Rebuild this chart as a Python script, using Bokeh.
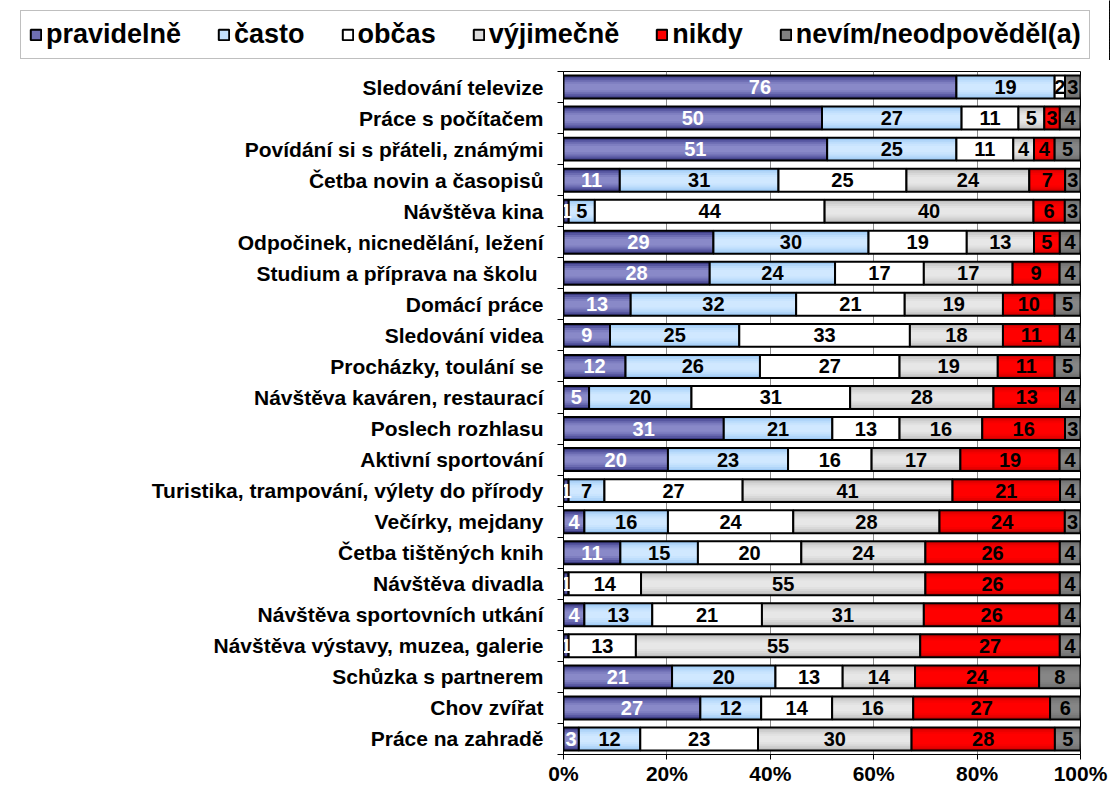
from bokeh.plotting import figure
from bokeh.layouts import column
from bokeh.models import (ColumnDataSource, Range1d, FixedTicker, Legend, LegendItem,
                          PrintfTickFormatter)
from bokeh.core.properties import value
from bokeh.embed import file_html
from bokeh.resources import INLINE

categories = [
    "Sledování televize",
    "Práce s počítačem",
    "Povídání si s přáteli, známými",
    "Četba novin a časopisů",
    "Návštěva kina",
    "Odpočinek, nicnedělání, ležení",
    "Studium a  příprava na školu",
    "Domácí práce",
    "Sledování videa",
    "Procházky, toulání se",
    "Návštěva kaváren, restaurací",
    "Poslech rozhlasu",
    "Aktivní sportování",
    "Turistika, trampování, výlety do přírody",
    "Večírky, mejdany",
    "Četba tištěných knih",
    "Návštěva divadla",
    "Návštěva sportovních utkání",
    "Návštěva výstavy, muzea, galerie",
    "Schůzka s partnerem",
    "Chov zvířat",
    "Práce na zahradě",
]
series_names = ["pravidelně", "často", "občas", "výjimečně", "nikdy", "nevím/neodpověděl(a)"]
pravidelne = [76, 50, 51, 11, 1, 29, 28, 13, 9, 12, 5, 31, 20, 1, 4, 11, 1, 4, 1, 21, 27, 3]
casto      = [19, 27, 25, 31, 5, 30, 24, 32, 25, 26, 20, 21, 23, 7, 16, 15, 0, 13, 0, 20, 12, 12]
obcas      = [2, 11, 11, 25, 44, 19, 17, 21, 33, 27, 31, 13, 16, 27, 24, 20, 14, 21, 13, 13, 14, 23]
vyjimecne  = [0, 5, 4, 24, 40, 13, 17, 19, 18, 19, 28, 16, 17, 41, 28, 24, 55, 31, 55, 14, 16, 30]
nikdy      = [0, 3, 4, 7, 6, 5, 9, 10, 11, 11, 13, 16, 19, 21, 24, 26, 26, 26, 27, 24, 27, 28]
nevim      = [3, 4, 5, 3, 3, 4, 4, 5, 4, 5, 4, 3, 4, 4, 3, 4, 4, 4, 4, 8, 6, 5]
x_ticks = [0, 20, 40, 60, 80, 100]

series_values = [pravidelne, casto, obcas, vyjimecne, nikdy, nevim]

# colour bands (outer edge -> centre) to imitate the shaded bars
band_colors = [
    ["#3a3a7e", "#5656a0", "#6c6cb2", "#7e7ec0", "#8989c8"],
    ["#9cc8f3", "#b0d5f9", "#bedefc", "#c9e4fe", "#d0e8ff"],
    ["#ffffff", "#ffffff", "#ffffff", "#ffffff", "#ffffff"],
    ["#bdbdbd", "#cdcdcd", "#d8d8d8", "#e1e1e1", "#e7e7e7"],
    ["#cc0000", "#e80000", "#f70000", "#ff0000", "#ff0000"],
    ["#6c6c6c", "#777777", "#7e7e7e", "#838383", "#868686"],
]
legend_colors = ["#6f6fb4", "#c4e1fd", "#ffffff", "#dcdcdc", "#ff0000", "#808080"]
band_fracs = [1.0, 0.82, 0.64, 0.46, 0.28]
bar_h = 0.74

n = len(categories)
ys = [n - 1 - i for i in range(n)]
totals = [sum(s[i] for s in series_values) for i in range(n)]
data = {"y": ys}
cum = [0.0] * n
for k, s in enumerate(series_values):
    pct = [s[i] / totals[i] * 100 for i in range(n)]
    data[f"l{k}"] = list(cum)
    data[f"r{k}"] = [cum[i] + pct[i] for i in range(n)]
    data[f"c{k}"] = [cum[i] + pct[i] / 2 for i in range(n)]
    data[f"t{k}"] = [str(v) if v > 0 else "" for v in s]
    cum = data[f"r{k}"]
src = ColumnDataSource(data)

FONT = value("Liberation Sans")
LEG_H = 60

# ---------- legend strip ----------
lg = figure(width=1110, height=LEG_H, output_backend="svg", toolbar_location=None,
            x_range=Range1d(-2, -1), y_range=Range1d(-0.5, n - 0.5),
            min_border_left=0, min_border_right=0, min_border_top=0, min_border_bottom=0,
            x_axis_location=None, y_axis_location=None)
lg.frame_align = False
lg.grid.grid_line_color = None
lg.outline_line_color = None
lg.background_fill_color = "white"
lg.border_fill_color = "white"

items = []
for k in range(len(series_values)):
    lr = lg.hbar(y="y", left=f"l{k}", right=f"r{k}", height=bar_h, source=src,
                 fill_color=legend_colors[k], line_color="black", line_width=2)
    items.append(LegendItem(label=series_names[k], renderers=[lr]))

legend = Legend(items=items, orientation="horizontal", location=(20, 1),
                glyph_width=13, glyph_height=13, label_standoff=4, spacing=36,
                padding=8, margin=0,
                label_text_font="Liberation Sans", label_text_font_style="bold",
                label_text_font_size="27px", label_text_color="black",
                border_line_color="#7f7f7f", border_line_width=1.5,
                background_fill_color="white", background_fill_alpha=1.0,
                inactive_fill_alpha=0.0)
lg.add_layout(legend, "center")

# ---------- main chart ----------
p = figure(width=1110, height=787 - LEG_H, output_backend="svg", toolbar_location=None,
           x_range=Range1d(0, 100), y_range=Range1d(-0.5, n - 0.5),
           min_border_left=563, min_border_right=30, min_border_top=71 - LEG_H,
           min_border_bottom=31)
p.frame_align = False
p.background_fill_color = "white"
p.border_fill_color = "white"
p.outline_line_color = "black"
p.outline_line_width = 1

p.ygrid.grid_line_color = None
p.xgrid.ticker = FixedTicker(ticks=x_ticks)
p.xgrid.grid_line_color = "#8c8c8c"
p.xgrid.grid_line_width = 1

for k in range(len(series_values)):
    for frac, col in zip(band_fracs, band_colors[k]):
        p.hbar(y="y", left=f"l{k}", right=f"r{k}", height=bar_h * frac, source=src,
               fill_color=col, line_color=None)
    p.hbar(y="y", left=f"l{k}", right=f"r{k}", height=bar_h, source=src,
           fill_color=None, line_color="black", line_width=2)

for k in range(len(series_values)):
    p.text(x=f"c{k}", y="y", text=f"t{k}", source=src,
           text_font=FONT, text_font_style="bold", text_font_size="20px",
           text_align="center", text_baseline="middle",
           text_color="white" if k == 0 else "black")

xa = p.xaxis[0]
xa.ticker = FixedTicker(ticks=x_ticks)
xa.formatter = PrintfTickFormatter(format="%d%%")
xa.major_label_text_font = "Liberation Sans"
xa.major_label_text_font_style = "bold"
xa.major_label_text_font_size = "21px"
xa.major_label_text_color = "black"
xa.major_tick_out = 5
xa.major_tick_in = 0
xa.major_tick_line_color = "black"
xa.minor_tick_line_color = None
xa.axis_line_color = "black"
xa.major_label_standoff = 2

ya = p.yaxis[0]
ya.ticker = FixedTicker(ticks=ys, minor_ticks=[v - 0.5 for v in range(n + 1)])
ya.major_label_overrides = {ys[i]: categories[i] for i in range(n)}
ya.major_label_text_font = "Liberation Sans"
ya.major_label_text_font_style = "bold"
ya.major_label_text_font_size = "21px"
ya.major_label_text_color = "black"
ya.major_tick_line_color = None
ya.major_tick_out = 0
ya.major_tick_in = 0
ya.minor_tick_out = 6
ya.minor_tick_in = 0
ya.minor_tick_line_color = "black"
ya.axis_line_color = "black"
ya.major_label_standoff = 14

layout = column(lg, p, spacing=0)
open("out.html", "w").write(file_html(layout, INLINE))
